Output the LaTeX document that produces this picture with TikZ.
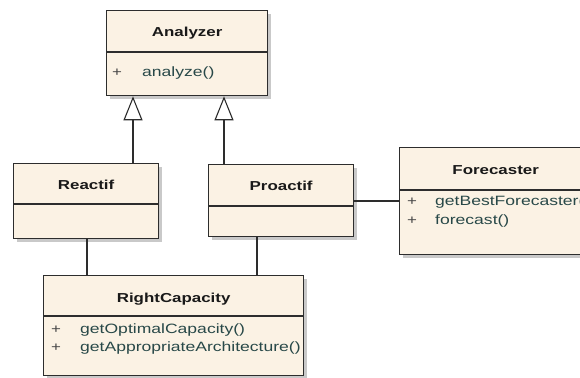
\documentclass[tikz,border=0pt]{standalone}
\usepackage{fontspec}
\setmainfont{Liberation Sans}
\newfontfamily\umlfont[FakeStretch=1.3]{Liberation Sans}
\usetikzlibrary{arrows.meta,shadows,calc}
\definecolor{umlfill}{RGB}{251,242,228}
\definecolor{umlline}{RGB}{45,45,45}
\definecolor{methcol}{RGB}{40,72,72}
\definecolor{pluscol}{RGB}{70,70,70}
\tikzset{
  umlbox/.style={draw=umlline, fill=umlfill, line width=1.3pt, rectangle, anchor=north west, inner sep=0pt,
    drop shadow={shadow xshift=3.5pt, shadow yshift=-3.5pt, fill=black!35, opacity=0.6}},
  divider/.style={draw=umlline, line width=1.3pt},
  umltitle/.style={font=\umlfont\bfseries\fontsize{13}{15}\selectfont, text=black!90, inner sep=0pt},
  meth/.style={font=\umlfont\fontsize{13.5}{15}\selectfont, text=methcol, anchor=west, inner sep=0pt},
  plus/.style={font=\umlfont\fontsize{13}{14}\selectfont, text=pluscol, inner sep=0pt},
  conn/.style={draw=umlline, line width=1.1pt},
  gen/.style={conn, -{Triangle[open, width=19pt, length=24pt, fill=white]}}
}
\begin{document}
\begin{tikzpicture}[x=1pt, y=-1pt]
\useasboundingbox (0,0) rectangle (580,377);
\clip (0,0) rectangle (580,377);
\fill[white] (0,0) rectangle (580,377);

% boxes
\node[umlbox, minimum width=161pt, minimum height=85pt] (ana) at (106,10) {};
\node[umlbox, minimum width=145pt, minimum height=75pt] (rea) at (13,163) {};
\node[umlbox, minimum width=145pt, minimum height=72pt] (pro) at (208,164) {};
\node[umlbox, minimum width=192pt, minimum height=107pt] (fore) at (399,147) {};
\node[umlbox, minimum width=260pt, minimum height=100pt] (rc) at (43,275) {};

% dividers
\coordinate (d1) at (0,52);
\coordinate (d2) at (0,204);
\coordinate (d3) at (0,206);
\coordinate (d4) at (0,190);
\coordinate (d5) at (0,316);
\draw[divider] (ana.west |- d1) -- (ana.east |- d1);
\draw[divider] (rea.west |- d2) -- (rea.east |- d2);
\draw[divider] (pro.west |- d3) -- (pro.east |- d3);
\draw[divider] (fore.west |- d4) -- (fore.east |- d4);
\draw[divider] (rc.west |- d5) -- (rc.east |- d5);

% titles
\node[umltitle] (anat) at ($(ana.north)+(0,23)$) {Analyzer};
\node[umltitle] (reat) at ($(rea.north)+(0,22)$) {Reactif};
\node[umltitle] (prot) at ($(pro.north)+(0,22)$) {Proactif};
\node[umltitle] (foret) at ($(fore.north)+(0,23)$) {Forecaster};
\node[umltitle] (rct) at ($(rc.north)+(0,24)$) {RightCapacity};

% operations
\node[plus] (p1) at (117,73) {+};
\node[meth] (m1) at (142,73) {analyze()};
\node[plus] (p2) at (412,202) {+};
\node[meth] (m2) at (435,202) {getBestForecaster()};
\node[plus] (p3) at (412,221) {+};
\node[meth] (m3) at (435,221) {forecast()};
\node[plus] (p4) at (56,330) {+};
\node[meth] (m4) at (80,330) {getOptimalCapacity()};
\node[plus] (p5) at (56,348) {+};
\node[meth] (m5) at (80,348) {getAppropriateArchitecture()};

% generalizations
\coordinate (g1) at (133,0);
\coordinate (g2) at (224,0);
\draw[gen] (rea.north -| g1) -- (ana.south -| g1);
\draw[gen] (pro.north -| g2) -- (ana.south -| g2);

% associations
\coordinate (a1) at (87,0);
\coordinate (a2) at (257,0);
\coordinate (a3) at (0,201);
\draw[conn] (rea.south -| a1) -- (rc.north -| a1);
\draw[conn] (pro.south -| a2) -- (rc.north -| a2);
\draw[conn] (pro.east |- a3) -- (fore.west |- a3);
\end{tikzpicture}
\end{document}
